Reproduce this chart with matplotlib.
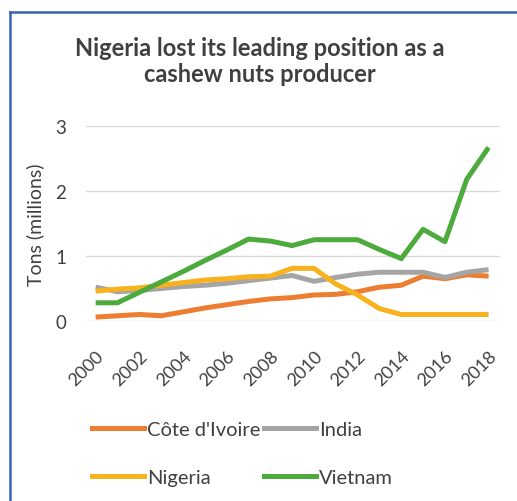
import numpy as np
import matplotlib
matplotlib.use("Agg")
import matplotlib.pyplot as plt
from matplotlib.lines import Line2D

plt.rcParams['font.family'] = ['Lato', 'DejaVu Sans']

years = list(range(2000, 2019))
cote_divoire = [0.06, 0.08, 0.10, 0.08, 0.14, 0.20, 0.25, 0.30, 0.34, 0.36, 0.40,
                0.41, 0.45, 0.52, 0.55, 0.69, 0.65, 0.71, 0.69]
india = [0.52, 0.45, 0.47, 0.50, 0.53, 0.55, 0.58, 0.62, 0.66, 0.70, 0.61,
         0.67, 0.72, 0.75, 0.75, 0.75, 0.67, 0.75, 0.79]
nigeria = [0.46, 0.49, 0.51, 0.55, 0.59, 0.63, 0.65, 0.68, 0.69, 0.81, 0.81,
           0.57, 0.40, 0.19, 0.10, 0.10, 0.10, 0.10, 0.10]
vietnam = [0.28, 0.28, 0.44, 0.60, 0.76, 0.93, 1.09, 1.26, 1.23, 1.16, 1.25,
           1.25, 1.25, 1.10, 0.96, 1.41, 1.22, 2.18, 2.67]
xticks = list(range(2000, 2019, 2))

colors = {"Côte d'Ivoire": "#ED7D31", "India": "#A5A5A5",
          "Nigeria": "#F7B21E", "Vietnam": "#4DAA3C"}

fig = plt.figure(figsize=(5.17, 5.02), dpi=100)
ax = fig.add_axes([0.166, 0.3586, 0.801, 0.3884])

series = [("Côte d'Ivoire", cote_divoire), ("India", india),
          ("Nigeria", nigeria), ("Vietnam", vietnam)]
for name, vals in series:
    ax.plot(years, vals, color=colors[name], lw=3.6, solid_joinstyle='round',
            solid_capstyle='butt', label=name)

ax.set_xlim(1999.55, 2018.52)
ax.set_ylim(0, 3)
ax.set_yticks([0, 1, 2, 3])
ax.set_xticks(xticks)
ax.set_xticklabels([str(y) for y in xticks], rotation=45, ha='right',
                   rotation_mode='anchor')
ax.tick_params(length=0, labelsize=13.5, colors='#404040')
ax.tick_params(axis='x', labelsize=13, pad=19)
ax.tick_params(axis='y', pad=14)
ax.grid(axis='y', color='#D9D9D9', lw=1)
ax.set_axisbelow(True)
for s in ax.spines.values():
    s.set_visible(False)
ax.set_ylabel("Tons (millions)", fontsize=14, color='#404040', labelpad=8)

fig.text(0.502, 0.877, "Nigeria lost its leading position as a\ncashew nuts producer",
         ha='center', va='center', fontsize=17, fontweight='bold',
         color='#404040', linespacing=1.15)

order = ["Côte d'Ivoire", "Nigeria", "India", "Vietnam"]
handles = [Line2D([], [], color=colors[n], lw=3.6) for n in order]
fig.legend(handles, order, ncol=2, loc='upper left',
           bbox_to_anchor=(0.143, 0.196), frameon=False, fontsize=14.5,
           handlelength=2.6, handletextpad=0.15, columnspacing=0.15,
           labelspacing=1.55, labelcolor='#404040')

# blue frame (left and top edges)
fig.add_artist(Line2D([0.0185, 0.0185], [0, 0.974], color='#3A62AE', lw=1.8,
                      transform=fig.transFigure))
fig.add_artist(Line2D([0.0185, 1.0], [0.974, 0.974], color='#3A62AE', lw=1.8,
                      transform=fig.transFigure))

fig.savefig("out.png", dpi=100)
